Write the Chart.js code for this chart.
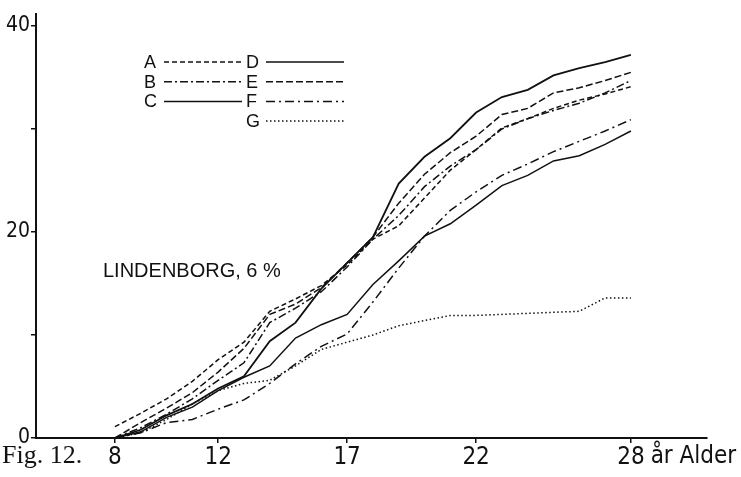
<html>
    <head>
        <meta charset="utf-8">
        <title>Fig. 12</title>
        <script src="https://cdn.jsdelivr.net/npm/chart.js@4/dist/chart.umd.min.js"></script>
        <style>
            body { margin: 0; background: #fff; }
            #box { width: 741px; height: 477px; }
        </style>
    </head>
    <body>
        <div id="box"><canvas id="mainchart"></canvas></div>
        <script>
            // ages (år) on the x axis
            const years = [8, 9, 10, 11, 12, 13, 14, 15, 16, 17, 18, 19, 20, 21, 22, 23, 24, 25, 26, 27, 28]
            const xTicks = [8, 12, 17, 22, 28]
            const yTicks = [0, 10, 20, 30, 40]
            const yLabels = [0, 20, 40]

            const serieA = [1.1, 2.4, 3.8, 5.5, 7.6, 9.3, 12.3, 13.5, 14.8, 16.8, 19.3, 20.6, 23.3, 26.0, 28.0, 30.1, 31.0, 32.0, 32.8, 33.4, 34.1]
            const serieB = [0, 1.0, 2.3, 3.8, 5.6, 7.3, 11.2, 12.6, 14.2, 16.6, 19.3, 21.6, 24.4, 26.4, 28.0, 30.0, 31.0, 31.8, 32.5, 33.5, 34.7]
            const serieC = [0, 0.6, 2.0, 3.0, 4.6, 5.9, 7.0, 9.7, 11.0, 12.0, 14.9, 17.2, 19.6, 20.8, 22.6, 24.5, 25.5, 26.9, 27.4, 28.5, 29.8]
            const serieD = [0, 0.8, 2.2, 3.3, 4.8, 6.0, 9.4, 11.2, 14.5, 17.0, 19.5, 24.7, 27.3, 29.1, 31.6, 33.1, 33.8, 35.2, 35.9, 36.5, 37.2]
            const serieE = [0, 1.5, 2.9, 4.4, 6.4, 8.7, 12.0, 13.0, 14.6, 17.0, 19.5, 22.8, 25.6, 27.7, 29.3, 31.4, 32.0, 33.5, 34.0, 34.7, 35.5]
            const serieF = [0, 0.5, 1.5, 1.8, 2.8, 3.7, 5.3, 7.2, 8.9, 10.1, 13.2, 16.5, 19.6, 22.1, 23.9, 25.5, 26.6, 27.8, 28.8, 29.8, 30.9]
            const serieG = [0, 0.5, 1.8, 3.3, 4.6, 5.3, 5.6, 7.0, 8.6, 9.3, 10.0, 10.9, 11.4, 11.9, 11.9, 12.0, 12.1, 12.2, 12.3, 13.6, 13.6]

            const ink = '#111'
            const tickFont = "'DejaVu Sans Condensed', 'Liberation Sans Narrow', 'DejaVu Sans', sans-serif"

            function makeSet(label, values, dash, width) {
                return {
                    label: label,
                    data: years.map((y, i) => ({ x: y, y: values[i] })),
                    borderColor: ink,
                    borderWidth: width,
                    borderDash: dash,
                    pointRadius: 0,
                    tension: 0,
                    fill: false
                }
            }

            const datasets = [
                makeSet('A', serieA, [5, 3], 1.5),
                makeSet('B', serieB, [8, 3, 2, 3], 1.5),
                makeSet('C', serieC, [], 1.5),
                makeSet('D', serieD, [], 1.8),
                makeSet('E', serieE, [7, 3], 1.5),
                makeSet('F', serieF, [9, 4, 2, 4], 1.5),
                makeSet('G', serieG, [1.5, 2.5], 1.5)
            ]

            // legend in two columns: letter, then a sample of the line
            const keyPlugin = {
                id: 'key',
                afterDraw(chart) {
                    const c = chart.ctx
                    const rows = [['A', 0, 0], ['B', 0, 1], ['C', 0, 2], ['D', 1, 0], ['E', 1, 1], ['F', 1, 2], ['G', 1, 3]]
                    c.save()
                    c.fillStyle = ink
                    c.strokeStyle = ink
                    c.font = "18px 'Liberation Sans', Arial, sans-serif"
                    c.textBaseline = 'middle'
                    rows.forEach(([name, col, row]) => {
                        const ds = chart.data.datasets.find(d => d.label === name)
                        const x = 144 + col * 102
                        const y = 62 + row * 19.7
                        c.fillText(name, x, y + 1)
                        c.setLineDash(ds.borderDash)
                        c.lineWidth = 1.5
                        c.beginPath()
                        c.moveTo(x + 20, y)
                        c.lineTo(x + 98, y)
                        c.stroke()
                    })
                    c.setLineDash([])
                    c.font = "20px 'Liberation Sans', Arial, sans-serif"
                    c.fillText('LINDENBORG, 6 %', 103, 271)

                    const xs = chart.scales.x
                    c.font = "24px " + tickFont
                    const w28 = c.measureText('28').width
                    c.textBaseline = 'alphabetic'
                    c.fillText('år Alder', xs.getPixelForValue(28) + w28 / 2 + 6, 463)
                    c.font = "26px 'Liberation Serif', 'Times New Roman', serif"
                    c.fillText('Fig. 12.', 2, 463)
                    c.restore()
                }
            }

            new Chart(document.getElementById('mainchart'), {
                type: 'line',
                data: { datasets: datasets },
                plugins: [keyPlugin],
                options: {
                    responsive: true,
                    maintainAspectRatio: false,
                    animation: false,
                    layout: { padding: { top: 7, right: 34, left: 0, bottom: 0 } },
                    plugins: { legend: { display: false }, tooltip: { enabled: false } },
                    scales: {
                        x: {
                            type: 'linear',
                            min: 4.94,
                            max: 30.95,
                            afterBuildTicks: s => { s.ticks = xTicks.map(v => ({ value: v })) },
                            afterFit: s => { s.height = 39 },
                            border: { display: true, color: ink, width: 2 },
                            grid: { drawOnChartArea: false, drawTicks: true, tickLength: 5, color: ink, lineWidth: 1.5 },
                            ticks: { color: ink, padding: 0, font: { family: tickFont, size: 24 }, maxRotation: 0 }
                        },
                        y: {
                            min: 0,
                            max: 41.2,
                            afterBuildTicks: s => { s.ticks = yTicks.map(v => ({ value: v })) },
                            afterFit: s => { s.width = 36 },
                            border: { display: true, color: ink, width: 2 },
                            grid: { drawOnChartArea: false, drawTicks: true, tickLength: 5, color: ink, lineWidth: 1.5 },
                            ticks: {
                                color: ink,
                                padding: 1,
                                font: { family: tickFont, size: 21 },
                                callback: v => yLabels.includes(v) ? String(v) : ''
                            }
                        }
                    }
                }
            })
        </script>
    </body>
</html>
